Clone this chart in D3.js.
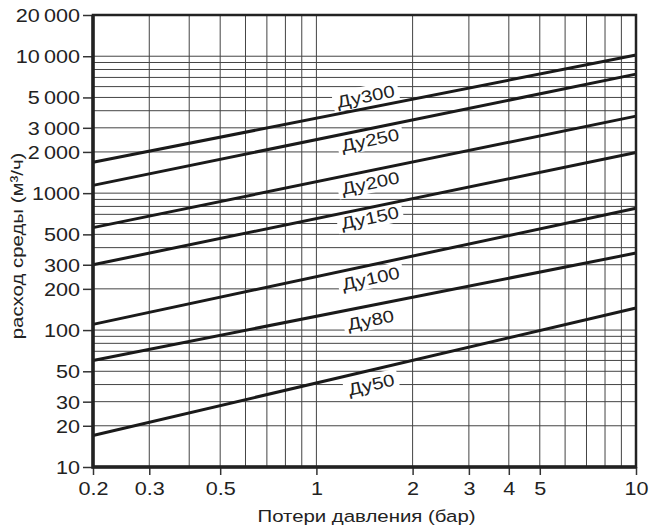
<!DOCTYPE html>
<html>
<head>
<meta charset="utf-8">
<script src="https://cdn.jsdelivr.net/npm/d3@7"></script>
<style>
  body { margin: 0; background: #fff; }
  svg text { font-family: "Liberation Sans", Arial, sans-serif; fill: #222; }
</style>
</head>
<body>
<svg id="chart" width="651" height="528"></svg>
<script>
// chart data
var sizes = ["Ду300", "Ду250", "Ду200", "Ду150", "Ду100", "Ду80", "Ду50"];
var dpRange = [0.2, 10];                                  // бар
var flowAtMin = [1680, 1140, 560, 300, 110, 60, 17];      // м3/ч at 0.2 бар
var flowAtMax = [10200, 7400, 3650, 1980, 775, 365, 145]; // м3/ч at 10 бар
var xTicks = [0.2, 0.3, 0.5, 1, 2, 3, 4, 5, 10];
var yTicks = [10, 20, 30, 50, 100, 200, 300, 500, 1000, 2000, 3000, 5000, 10000, 20000];

var SX = 1.2; // fonts in the picture are stretched sideways

var svg = d3.select("#chart"),
    margin = {top: 15, right: 15, bottom: 61, left: 93},
    width = +svg.attr("width") - margin.left - margin.right,
    height = +svg.attr("height") - margin.top - margin.bottom,
    g = svg.append("g").attr("transform", "translate(" + margin.left + "," + margin.top + ")");

var x = d3.scaleLog().domain(dpRange).range([0, width]);
var y = d3.scaleLog().domain([10, 20000]).range([height, 0]);

// grid
g.append("g").selectAll("line")
    .data(x.ticks())
  .enter().append("line")
    .attr("x1", function(d) { return x(d); })
    .attr("x2", function(d) { return x(d); })
    .attr("y1", 0).attr("y2", height)
    .attr("stroke", "#444").attr("stroke-width", 1);

g.append("g").selectAll("line")
    .data(y.ticks())
  .enter().append("line")
    .attr("y1", function(d) { return y(d); })
    .attr("y2", function(d) { return y(d); })
    .attr("x1", 0).attr("x2", width)
    .attr("stroke", "#444").attr("stroke-width", 1);

// series table
var series = sizes.map(function(s, i) {
  return {name: s, pts: [[dpRange[0], flowAtMin[i]], [dpRange[1], flowAtMax[i]]]};
});

var line = d3.line()
    .x(function(d) { return x(d[0]); })
    .y(function(d) { return y(d[1]); });

// label placement along the lines
var labelDp = 1.45;
var labelShift = [-12, 11, 12, 10, 13, 14, 14];

var labels = g.append("g");
var lines = g.append("g");
var labelText = g.append("g");

series.forEach(function(s, i) {
  var x0 = x(s.pts[0][0]), y0 = y(s.pts[0][1]),
      x1 = x(s.pts[1][0]), y1 = y(s.pts[1][1]);
  var ang = Math.atan2(y1 - y0, x1 - x0);
  var lx = x(labelDp), ly = y0 + (y1 - y0) * (lx - x0) / (x1 - x0);
  // move off the line, perpendicular
  var cx = lx - Math.sin(ang) * labelShift[i],
      cy = ly + Math.cos(ang) * labelShift[i];
  var deg = ang * 180 / Math.PI;

  var t = labelText.append("text")
      .attr("transform", "translate(" + cx + "," + cy + ") rotate(" + deg + ") scale(" + SX + ",1)")
      .attr("text-anchor", "middle")
      .attr("dy", "0.36em")
      .style("font-size", "17px")
      .text(s.name);
  var w = t.node().getComputedTextLength() * SX;

  labels.append("rect")
      .attr("transform", "translate(" + cx + "," + cy + ") rotate(" + deg + ")")
      .attr("x", -w / 2 - 4).attr("y", -10)
      .attr("width", w + 8).attr("height", 20)
      .attr("fill", "#fff");

  lines.append("path")
      .datum(s.pts)
      .attr("fill", "none")
      .attr("stroke", "#1a1a1a")
      .attr("stroke-width", 3)
      .attr("d", line);
});

// axes
var yAxis = g.append("g")
    .call(d3.axisLeft(y).tickValues(yTicks).tickSize(10)
      .tickFormat(function(d) { return d >= 2000 ? (d / 1000) + "\u2009000" : d; }));
yAxis.select(".domain").remove();
yAxis.selectAll(".tick line").attr("stroke", "#333").attr("stroke-width", 1.5);
yAxis.selectAll(".tick text")
    .attr("x", -13 / SX).attr("dy", "0.36em")
    .attr("transform", "scale(" + SX + ",1)")
    .style("font-size", "18px").style("font-family", null).attr("fill", "#222");

var xAxis = g.append("g")
    .attr("transform", "translate(0," + height + ")")
    .call(d3.axisBottom(x).tickValues(xTicks).tickSize(8).tickFormat(function(d) { return d; }));
xAxis.select(".domain").remove();
xAxis.selectAll(".tick line").attr("stroke", "#333").attr("stroke-width", 1.5);
xAxis.selectAll(".tick text")
    .attr("y", 28).attr("dy", 0)
    .attr("transform", "scale(" + SX + ",1)")
    .style("font-size", "18px").style("font-family", null).attr("fill", "#222");

// frame
g.append("rect")
    .attr("width", width).attr("height", height)
    .attr("fill", "none").attr("stroke", "#222").attr("stroke-width", 2.5);
g.append("path")
    .attr("d", "M0,0V" + height + "H" + width)
    .attr("fill", "none").attr("stroke", "#222").attr("stroke-width", 3.5);

// titles
svg.append("text")
    .attr("transform", "translate(" + (margin.left + width / 2 + 2) + ",522) scale(" + SX + ",1)")
    .attr("text-anchor", "middle")
    .style("font-size", "17px")
    .text("Потери давления (бар)");

svg.append("text")
    .attr("transform", "translate(23,246) rotate(-90) scale(" + SX + ",1)")
    .attr("text-anchor", "middle")
    .style("font-size", "17px")
    .text("расход среды (м³/ч)");
</script>
</body>
</html>
